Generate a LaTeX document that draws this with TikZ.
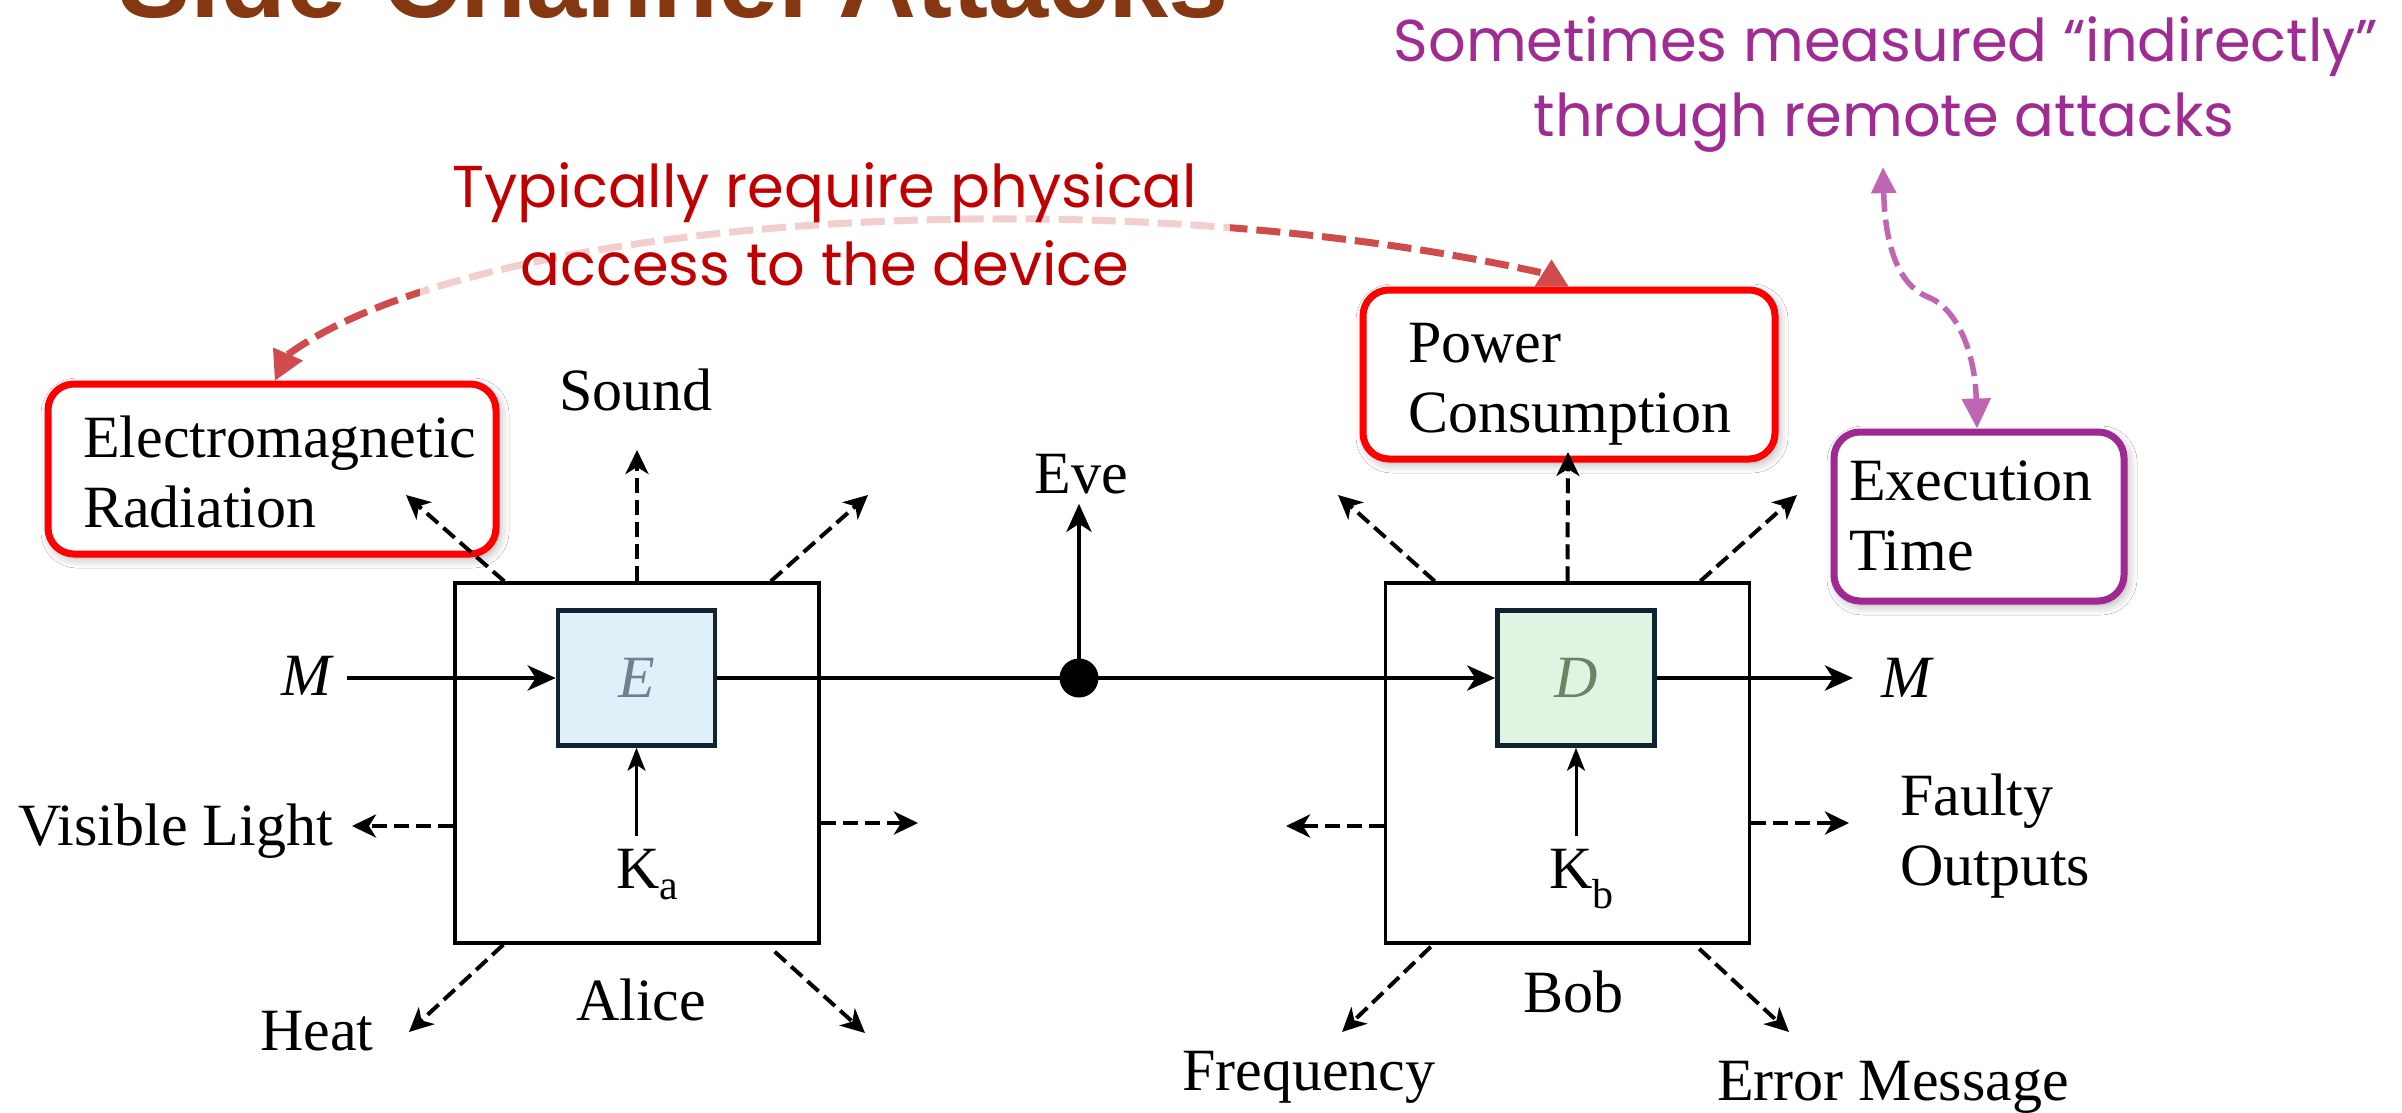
\documentclass[tikz,border=0pt]{standalone}
\usepackage{fontspec}
\setmainfont{Liberation Serif}
\newfontfamily\titlefont{Liberation Sans}
\newfontfamily\handfont{Poppins}
\usetikzlibrary{arrows.meta, shadows.blur, calc}

\definecolor{titlebrown}{RGB}{132,55,17}
\definecolor{notered}{RGB}{192,0,0}
\definecolor{notepurple}{RGB}{160,43,147}
\definecolor{curvered}{RGB}{208,75,75}
\definecolor{curvepurple}{RGB}{192,100,180}
\definecolor{boxpurple}{RGB}{158,42,145}
\definecolor{encblue}{RGB}{223,240,248}
\definecolor{decgreen}{RGB}{223,245,225}
\definecolor{cipherline}{RGB}{15,35,50}
\definecolor{encletter}{RGB}{110,130,145}
\definecolor{decletter}{RGB}{110,130,100}

\begin{document}
\begin{tikzpicture}[x=1pt, y=-1pt,
  lbl/.style={font=\fontsize{60}{70}\selectfont, inner sep=0pt},
  party/.style={draw, line width=3.5pt, minimum width=364pt, minimum height=360pt, inner sep=0pt},
  cipher/.style={draw=cipherline, line width=4.5pt, minimum width=157pt, minimum height=135pt,
    inner sep=0pt, font=\fontsize{60}{70}\selectfont\itshape},
  flow/.style={line width=4.5pt, -{Stealth[length=28pt, width=25pt, inset=8pt]}},
  keyflow/.style={line width=3pt, -{Stealth[length=23pt, width=18pt, inset=6pt]}},
  leak/.style={line width=4pt, dash pattern=on 15pt off 7pt, -{Stealth[length=24pt, width=23pt, inset=7pt]}},
  callout/.style={line width=7pt, rounded corners=26pt, fill=white, inner sep=0pt,
    blur shadow={shadow xshift=3pt, shadow yshift=-4pt, shadow blur radius=10pt, shadow opacity=35}},
  handnote/.style={font=\handfont\fontsize{59}{70}\selectfont, inner sep=0pt},
  physcurve/.style={draw=curvered, line width=7pt, dash pattern=on 24pt off 9pt},
  remotecurve/.style={draw=curvepurple, line width=5.5pt, dash pattern=on 20pt off 8pt},
]
\useasboundingbox (0,0) rectangle (2402,1113);
\fill[white] (0,0) rectangle (2402,1113);

% slide title, running off the top edge
\node[anchor=base west, inner sep=0pt, text=titlebrown,
      font=\titlefont\bfseries\fontsize{108}{120}\selectfont] (title) at (118,18) {Side-Channel Attacks};

% the two parties and their cipher boxes
\node[party] (alice) at (637,763) {};
\node[party] (bob) at (1567.5,763) {};
\node[cipher, fill=encblue, text=encletter] (enc) at (636.5,678) {E};
\node[cipher, fill=decgreen, text=decletter] (dec) at (1576,678) {D};

% labels of the channel
\node[lbl, anchor=base west] (mi) at (281,695) {\itshape M};
\node[lbl, anchor=base west] (mo) at (1881,697) {\itshape M};
\node[lbl, anchor=base west] (ka) at (616,888) {K\textsubscript{a}};
\node[lbl, anchor=base west] (kb) at (1549,888) {K\textsubscript{b}};
\node[lbl, anchor=base] (eve) at (1081,493) {Eve};
\node[lbl, anchor=base] (alicename) at (641,1020) {Alice};
\node[lbl, anchor=base] (bobname) at (1573,1012) {Bob};

% leakage labels
\node[lbl, anchor=base] (sound) at (636,410) {Sound};
\node[lbl, anchor=base east] (light) at (333,845) {Visible Light};
\node[lbl, anchor=base west] (heat) at (260,1050) {Heat};
\node[lbl, anchor=base west] (freq) at (1182,1090) {Frequency};
\node[lbl, anchor=base west] (errmsg) at (1717,1100) {Error Message};
\node[lbl, anchor=base west] (faulty) at (1900,815) {Faulty};
\node[lbl, anchor=base west] (outputs) at (1900,885) {Outputs};

% highlighted leakage channels
\node[callout, draw=red, minimum width=448pt, minimum height=170pt] (em) at (272,469) {};
\node[callout, draw=red, minimum width=412pt, minimum height=169pt] (pc) at (1569,374.5) {};
\node[callout, draw=boxpurple, minimum width=290pt, minimum height=169pt] (et) at (1979,516.5) {};
\node[lbl, anchor=base west] (emtext1) at (83,457) {Electromagnetic};
\node[lbl, anchor=base west] (emtext2) at (83,527) {Radiation};
\node[lbl, anchor=base west] (pctext1) at (1408,362) {Power};
\node[lbl, anchor=base west] (pctext2) at (1408,432) {Consumption};
\node[lbl, anchor=base west] (ettext1) at (1849,500) {Execution};
\node[lbl, anchor=base west] (ettext2) at (1849,570) {Time};

% message path
\coordinate (minStart) at ([xshift=16pt]mi.east);
\coordinate (moEnd) at ([xshift=-28pt]mo.west);
\draw[flow] (minStart |- enc.west) -- (enc.west);
\draw[flow] (enc.east) -- (dec.west);
\draw[flow] (dec.east) -- (dec.east -| moEnd);
\node[circle, fill, inner sep=0pt, minimum size=39pt] (tap) at (1079,678) {};
\coordinate (eveTip) at ([yshift=-10pt]eve.south);
\draw[flow] (tap.center) -- (tap.center |- eveTip);

% keys
\coordinate (kaTop) at ([yshift=13pt]ka.north);
\coordinate (kbTop) at ([yshift=13pt]kb.north);
\draw[keyflow] (kaTop -| enc.south) -- (enc.south);
\draw[keyflow] (kbTop -| dec.south) -- (dec.south);

% leakage from Alice
\coordinate (aTL) at (406,495);
\coordinate (aTM) at (637,450);
\coordinate (aTR) at (868,495);
\coordinate (aL) at (352,826);
\coordinate (aR) at (918,823);
\coordinate (aBL) at (409,1032);
\coordinate (aBR) at (865,1033);
\draw[leak] ([xshift=51pt]alice.north west) -- (aTL);
\draw[leak] (alice.north) -- (aTM);
\draw[leak] ([xshift=-50pt]alice.north east) -- (aTR);
\draw[leak] ([yshift=-63pt]alice.west) -- (aL);
\draw[leak] ([yshift=-60pt]alice.east) -- (aR);
\draw[leak] ([xshift=50pt]alice.south west) -- (aBL);
\draw[leak] ([xshift=-46pt,yshift=-7pt]alice.south east) -- (aBR);

% leakage from Bob
\coordinate (bTL) at (1338,495);
\coordinate (bTM) at (1568,452);
\coordinate (bTR) at (1797,495);
\coordinate (bL) at (1286,826);
\coordinate (bR) at (1849,823);
\coordinate (bBL) at (1342,1032);
\coordinate (bBR) at (1789,1032);
\draw[leak] ([xshift=51pt]bob.north west) -- (bTL);
\draw[leak] (bob.north) -- (bTM);
\draw[leak] ([xshift=-51pt]bob.north east) -- (bTR);
\draw[leak] ([yshift=-63pt]bob.west) -- (bL);
\draw[leak] ([yshift=-60pt]bob.east) -- (bR);
\draw[leak] ([xshift=47pt,yshift=-2pt]bob.south west) -- (bBL);
\draw[leak] ([xshift=-52pt,yshift=-4pt]bob.south east) -- (bBR);

% physical-access annotation: arc between the two red boxes
\coordinate (emTip) at ([xshift=230.5pt]em.north west);
\coordinate (pcBase) at ([xshift=192pt]pc.north west);
\draw[physcurve] ($(emTip)+(13,-26)$) .. controls (480,215) and (1100,175) .. ($(pcBase)+(-11,-14)$);
\fill[curvered] (emTip) -- ++(-2,-33) -- ++(30,13) -- cycle;
\fill[curvered] ($(pcBase)+(-17,0)$) -- ++(17,-27) -- ++(17,27) -- cycle;
\node[fill=white, fill opacity=0.73, minimum width=810pt, minimum height=148pt, inner sep=0pt] (veil) at (825,226) {};
\node[handnote, text=notered, anchor=base] (phys1) at (825,207) {Typically require physical};
\node[handnote, text=notered, anchor=base] (phys2) at (825,285) {access to the device};

% remote-attack annotation
\node[handnote, text=notepurple, anchor=base] (remote1) at (1886,62) {Sometimes measured “indirectly”};
\node[handnote, text=notepurple, anchor=base] (remote2) at (1884,137) {through remote attacks};
\coordinate (ptTop) at ([xshift=-1pt,yshift=-14pt]remote2.south);
\coordinate (etTip) at ([xshift=-2pt]et.north);
\draw[remotecurve, {Triangle[length=26pt, width=24pt]}-{Triangle[length=30pt, width=28pt]}]
  (ptTop) .. controls (1885,245) and (1898,285) .. (1928,297)
          .. controls (1956,308) and (1975,350) .. (etTip);
\end{tikzpicture}
\end{document}
